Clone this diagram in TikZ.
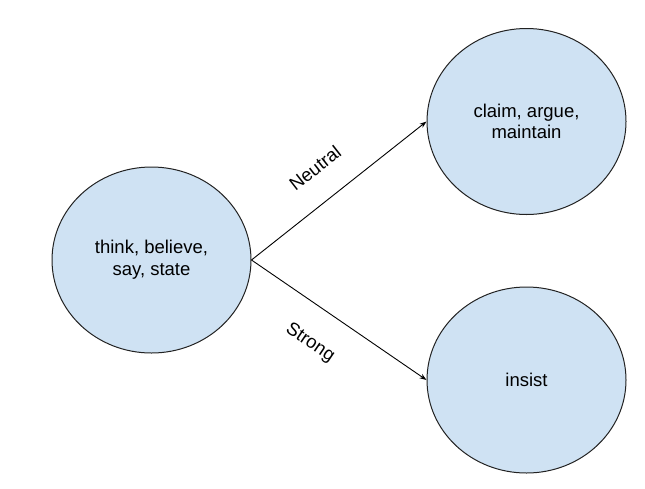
\documentclass[tikz,border=0pt]{standalone}
\usepackage{fontspec}
\setmainfont{Liberation Sans}
\usetikzlibrary{shapes.geometric,arrows.meta}
\definecolor{bubble}{HTML}{CFE2F3}
\definecolor{edgegray}{HTML}{222222}
\tikzset{
  bubble/.style={ellipse, draw=edgegray, line width=1pt, fill=bubble,
    minimum width=199pt, minimum height=186pt, inner sep=0pt,
    align=center, font=\fontsize{18.5}{21.7}\selectfont},
  conn/.style={draw=black, line width=0.9pt, -{Stealth[length=7pt,width=5pt]}},
  lbl/.style={font=\fontsize{18.5}{21.7}\selectfont, inner sep=0pt}
}
\begin{document}
\begin{tikzpicture}[x=1pt,y=-1pt]
\useasboundingbox (0,0) rectangle (645,488);
\node[bubble] (src) at (151.5,260) {think, believe,\\say, state};
\node[bubble] (neu) at (526.5,121.5) {claim, argue,\\maintain};
\node[bubble] (str) at (526.5,380) {insist};
\draw[conn] (src.east) -- (neu.west);
\draw[conn] (src.east) -- (str.west);
\node[lbl, rotate=38] (lneu) at (315,168) {Neutral};
\node[lbl, rotate=-34] (lstr) at (310,343) {Strong};
\end{tikzpicture}
\end{document}
